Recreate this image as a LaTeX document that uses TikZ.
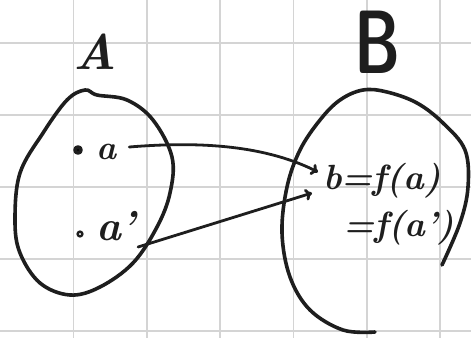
\documentclass[tikz,border=0pt]{standalone}
\usepackage{graphicx}
\usetikzlibrary{arrows.meta,calc}
\definecolor{ink}{RGB}{30,30,30}
\definecolor{gridc}{RGB}{212,212,212}
\tikzset{
  ink/.style={draw=ink, line width=3.6pt, line cap=round, line join=round},
  inkarrow/.style={ink, line width=2.8pt, -{To[length=7pt,width=12pt,line width=2.8pt]}},
  gridline/.style={draw=gridc, line width=1.6pt},
  lbl/.style={text=ink, inner sep=0pt},
}
\begin{document}
\begin{tikzpicture}[x=1pt,y=-1pt]
\useasboundingbox (0,0) rectangle (471,338);
\fill[white] (0,0) rectangle (471,338);
% grid
\foreach \gx in {73.5,147,220,293.5,367,440} \draw[gridline] (\gx,0) -- (\gx,338);
\foreach \gy in {43,115,187,259,331} \draw[gridline] (0,\gy) -- (471,\gy);
% set labels
\node[lbl, font=\fontsize{50}{50}\selectfont\bfseries\itshape] (A) at (95,52) {A};
\node[lbl, font=\fontsize{90}{90}\selectfont\sffamily\bfseries] (B) at (378,42) {\scalebox{0.7}[1]{B}};
% set A outline
\draw[ink] plot[smooth cycle, tension=0.6] coordinates {
 (85,90) (97,95) (127,100) (153,120) (172,157) (170,193) (157,227) (133,263)
 (100,287) (70,295) (40,283) (20,253) (15,220) (20,173) (43,133) (67,100)};
% set B outline (open)
\draw[ink] plot[smooth, tension=0.6] coordinates {
 (375,332) (343,330) (310,310) (290,277) (282,233) (287,187) (300,150) (320,120)
 (340,100) (363,90) (387,92) (417,103) (443,123) (465,150) (468,187) (460,223) (442,265)};
% elements
\fill[ink] (78,150) circle (3pt);
\node[lbl, font=\fontsize{34}{34}\selectfont\bfseries\itshape] (a) at (107,152) {a};
\draw[ink, line width=2.4pt] (80,234) circle (2.4pt);
\node[lbl, font=\fontsize{42}{42}\selectfont\bfseries\itshape] (ap) at (116,226) {a'};
\node[lbl, font=\fontsize{35}{35}\selectfont\bfseries\itshape, anchor=west] (b1) at (323,181) {b=f(a)};
\node[lbl, font=\fontsize{35}{35}\selectfont\bfseries\itshape, anchor=west] (b2) at (343,228) {=f(a')};
% arrows
\coordinate (s1) at ($(a.east)+(12,-5)$);
\coordinate (e1) at ($(b1.west)+(-5,-9)$);
\draw[inkarrow] (s1) .. controls (190,142) and (260,143) .. (e1);
\coordinate (s2) at ($(ap.east)+(2,21)$);
\coordinate (e2) at ($(b1.west)+(-11,12)$);
\draw[inkarrow] (s2) -- (e2);
\end{tikzpicture}
\end{document}
